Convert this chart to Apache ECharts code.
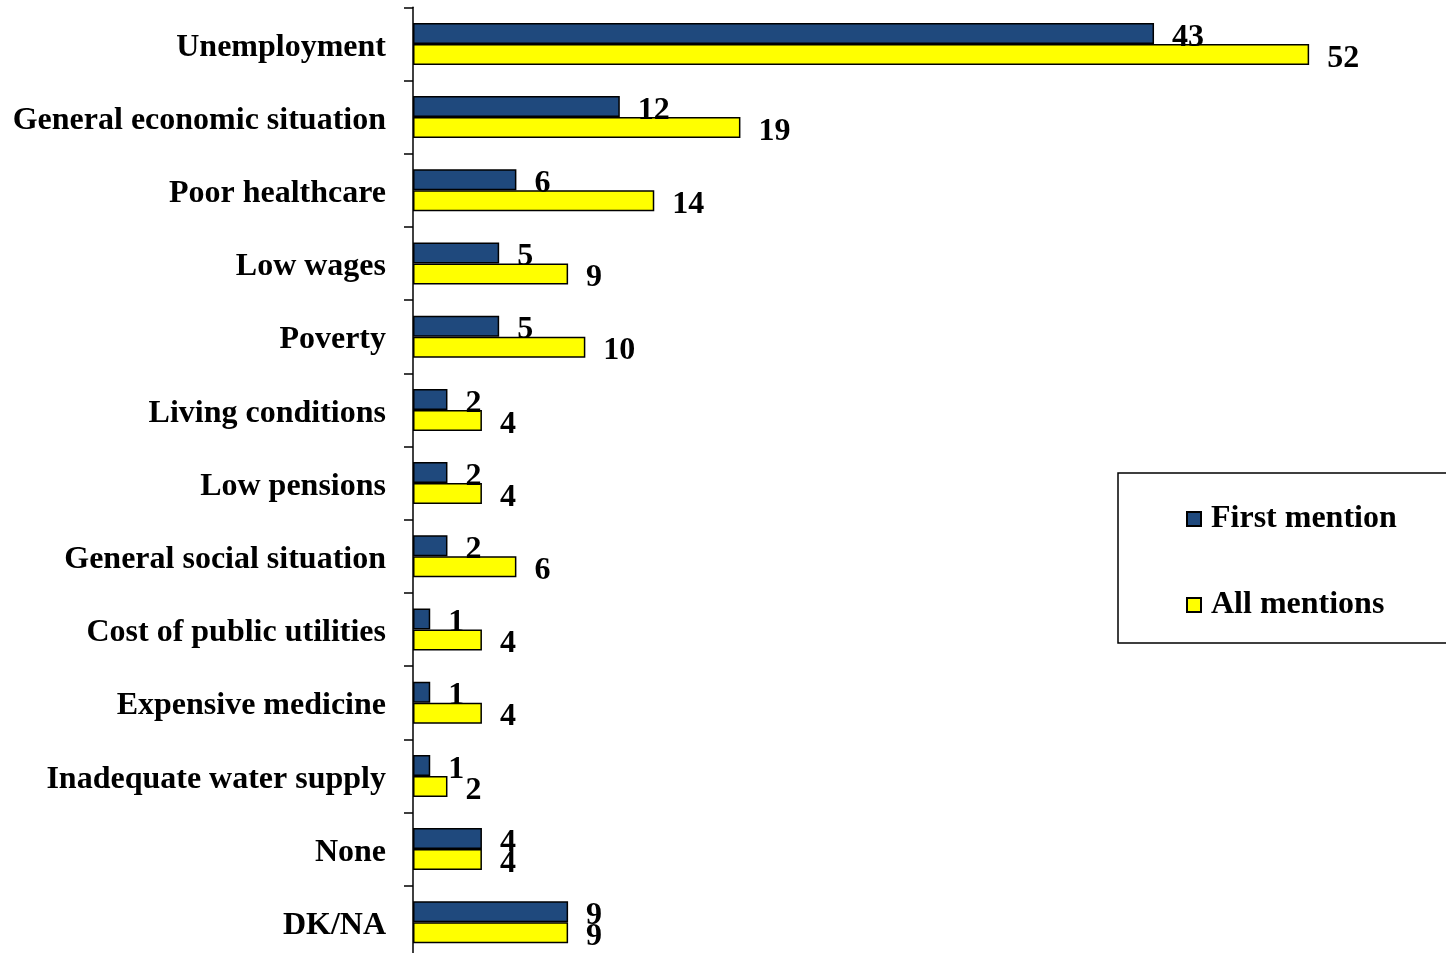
<!DOCTYPE html>
<html>
<head>
<meta charset="utf-8">
<script src="https://cdn.jsdelivr.net/npm/echarts@6/dist/echarts.min.js"></script>
<style>
  html, body { margin: 0; padding: 0; background: #ffffff; }
  #chart { width: 1446px; height: 953px; }
</style>
</head>
<body>
<div id="chart"></div>
<script>
// Problem categories, listed top to bottom
const categories = [
  'Unemployment',
  'General economic situation',
  'Poor healthcare',
  'Low wages',
  'Poverty',
  'Living conditions',
  'Low pensions',
  'General social situation',
  'Cost of public utilities',
  'Expensive medicine',
  'Inadequate water supply',
  'None',
  'DK/NA'
];

// Percent of respondents naming each problem
const firstMention = [43, 12, 6, 5, 5, 2, 2, 2, 1, 1, 1, 4, 9];
const allMentions = [52, 19, 14, 9, 10, 4, 4, 6, 4, 4, 2, 4, 9];

const seriesNames = ['First mention', 'All mentions'];

const FONT = '"Liberation Serif", "Times New Roman", serif';

const labelStyle = {
  show: true,
  position: 'right',
  distance: 18,
  offset: [0, 4],
  fontFamily: FONT,
  fontWeight: 'bold',
  fontSize: 32,
  color: '#000000'
};

const chart = echarts.init(document.getElementById('chart'), null, { renderer: 'canvas' });

chart.setOption({
  backgroundColor: '#ffffff',
  animation: false,
  grid: {
    left: 413,
    top: 7.3,
    width: 1034,
    height: 951.6,
    containLabel: false,
    outerBoundsMode: 'none'
  },
  xAxis: {
    type: 'value',
    min: 0,
    max: 60,
    show: false
  },
  yAxis: {
    type: 'category',
    data: categories,
    inverse: true,
    axisLine: { show: true, lineStyle: { color: '#000000', width: 1.5 } },
    axisTick: { show: true, length: 9, alignWithLabel: false, lineStyle: { color: '#000000', width: 1.5 } },
    axisLabel: {
      margin: 27,
      formatter: '{cat|{value}}',
      rich: {
        cat: {
          padding: [7, 0, 0, 0],
          fontFamily: FONT,
          fontWeight: 'bold',
          fontSize: 32,
          color: '#000000'
        }
      },
      fontFamily: FONT,
      fontWeight: 'bold',
      fontSize: 32,
      color: '#000000'
    },
    splitLine: { show: false }
  },
  legend: {
    orient: 'vertical',
    left: 1118,
    top: 473,
    padding: [30, 200, 22, 68],
    itemGap: 54,
    itemWidth: 14,
    itemHeight: 14,
    icon: 'rect',
    borderColor: '#000000',
    borderWidth: 1.5,
    borderRadius: 0,
    textStyle: {
      fontFamily: FONT,
      fontWeight: 'bold',
      fontSize: 32,
      color: '#000000',
      padding: [0, 0, 0, 5]
    },
    data: seriesNames
  },
  series: [
    {
      name: seriesNames[0],
      type: 'bar',
      data: firstMention,
      barWidth: 21,
      barGap: '0%',
      itemStyle: { color: '#1f497d', borderColor: '#000000', borderWidth: 1.5 },
      label: labelStyle
    },
    {
      name: seriesNames[1],
      type: 'bar',
      data: allMentions,
      barWidth: 21,
      barGap: '0%',
      itemStyle: { color: '#ffff00', borderColor: '#000000', borderWidth: 1.5 },
      label: labelStyle
    }
  ]
});
</script>
</body>
</html>
